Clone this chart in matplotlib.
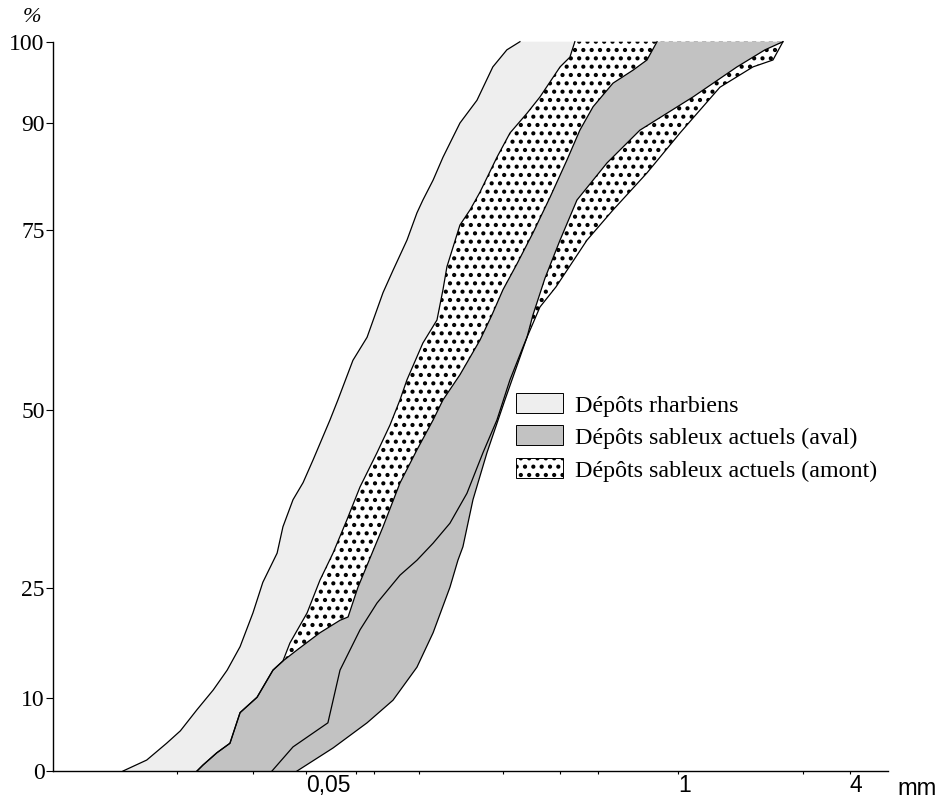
import numpy as np
import matplotlib
matplotlib.use("Agg")
import matplotlib.pyplot as plt
from matplotlib.patches import Rectangle
from matplotlib.ticker import FixedLocator, NullFormatter

# ---------------- data ----------------
# y graduation (%) and the relative height at which each is printed on the axis
pct_ticks = [0, 10, 25, 50, 75, 90, 100]
pct_axis_frac = [0.0, 0.1001, 0.2509, 0.4950, 0.7418, 0.8885, 1.0]

# x graduation (mm, log)
mm_major = [0.05, 1, 4]
mm_major_labels = ["0,05", "1", "4"]
mm_minor = [0.0176, 0.0325, 0.0746, 0.0863, 0.124, 0.244, 0.387, 0.526, 2.75]

# Dépôts rharbiens : fine-side (left) envelope
rharb_lo_mm = [0.0114, 0.0138, 0.0162, 0.0181, 0.0207, 0.0236, 0.0264, 0.0293, 0.0325, 0.0352,
               0.0395, 0.0414, 0.0449, 0.0487, 0.0528, 0.0605, 0.0645, 0.0728, 0.0816, 0.0928,
               0.1006, 0.1126, 0.122, 0.128, 0.139, 0.1505, 0.163, 0.1726, 0.198, 0.225,
               0.252, 0.280]
rharb_lo_pct = [0, 1.5, 3.8, 5.5, 8.4, 11.1, 13.8, 17.0, 21.6, 25.8,
                29.9, 33.6, 37.4, 39.8, 43.0, 48.6, 51.4, 56.9, 60.1, 66.3,
                69.4, 73.6, 77.4, 79.2, 82.0, 85.2, 88.0, 90.0, 92.8, 96.9,
                99.0, 100]

# Dépôts sableux actuels (amont) : left and right envelopes
amont_lo_mm = [0.0207, 0.0217, 0.0243, 0.0270, 0.0293, 0.0336, 0.0382, 0.0414,
               0.0438, 0.0503, 0.0558, 0.0620, 0.0694, 0.0771, 0.0884, 0.0982, 0.1064, 0.1126,
               0.128, 0.1434, 0.1505, 0.1554, 0.1726, 0.1871, 0.2028, 0.2326, 0.2584, 0.2964,
               0.329, 0.387, 0.419, 0.436]
amont_lo_pct = [0, 0.8, 2.5, 3.8, 8.0, 10.1, 13.8, 15.05,
                17.5, 21.6, 26.1, 29.9, 34.6, 39.2, 44.0, 47.9, 51.4, 54.2,
                59.3, 62.5, 66.7, 69.9, 75.7, 77.8, 80.3, 85.2, 88.6, 91.2,
                93.2, 96.9, 98.1, 100]
amont_hi_mm = [0.0379, 0.0449, 0.0595, 0.0656, 0.0771, 0.0884, 0.1064, 0.122, 0.139, 0.1592,
               0.1826, 0.2078, 0.2326, 0.2584, 0.287, 0.2964, 0.329, 0.3745, 0.481, 0.593,
               0.780, 1.018, 1.405, 1.834, 2.155, 2.336]
amont_hi_pct = [0, 3.3, 6.6, 13.8, 19.3, 22.95, 26.8, 28.9, 31.3, 34.1,
                38.3, 44.0, 48.6, 54.2, 58.75, 60.1, 64.3, 67.1, 73.6, 77.8,
                83.0, 88.6, 94.4, 96.9, 97.75, 100]

# Dépôts sableux actuels (aval) : left and right envelopes
aval_lo_mm = [0.0207, 0.0217, 0.0243, 0.0270, 0.0293, 0.0336, 0.0382, 0.0414, 0.0464, 0.0558,
              0.0656, 0.0700, 0.0758, 0.0816, 0.0928, 0.1064, 0.122, 0.139, 0.1505, 0.1726,
              0.2028, 0.2234, 0.2441, 0.2734, 0.311, 0.357, 0.409, 0.454, 0.505, 0.593,
              0.697, 0.780, 0.846]
aval_lo_pct = [0, 0.8, 2.5, 3.8, 8.0, 10.1, 13.8, 15.05, 16.55, 18.9,
               20.6, 21.05, 25.1, 28.2, 33.6, 39.75, 44.4, 48.6, 51.4, 54.9,
               59.7, 63.2, 66.7, 70.3, 74.6, 79.6, 84.8, 89.0, 92.0, 94.9,
               96.5, 97.75, 100]
aval_hi_mm = [0.0464, 0.0620, 0.0816, 0.1006, 0.122, 0.139, 0.1592, 0.1698, 0.1768, 0.1917,
              0.2146, 0.2481, 0.2964, 0.311, 0.3426, 0.387, 0.4435, 0.565, 0.737, 1.130,
              1.612, 2.021, 2.336]
aval_hi_pct = [0, 3.15, 6.6, 9.7, 14.2, 18.9, 25.1, 28.9, 30.8, 37.4,
               44.0, 51.4, 60.1, 63.2, 68.3, 73.6, 79.2, 84.4, 89.0, 93.2,
               96.9, 99.0, 100]

legend_labels = ["Dépôts rharbiens",
                 "Dépôts sableux actuels (aval)",
                 "Dépôts sableux actuels (amont)"]

# ---------------- style ----------------
LIGHT = "#eeeeee"
GREY = "#c2c2c2"
plt.rcParams["hatch.linewidth"] = 1.8
SERIF = ["Liberation Serif", "DejaVu Serif"]
SANS = ["Liberation Sans", "DejaVu Sans"]

W, H = 942, 799
fig = plt.figure(figsize=(W / 100, H / 100), dpi=100)
fx = lambda px: px / W
fy = lambda py: 1 - py / H

ax = fig.add_axes([fx(53), fy(771), (888 - 53) / W, (771 - 41.7) / H])
ax.set_xscale("log")
ax.set_yscale("function",
              functions=(lambda y: np.interp(y, pct_ticks, pct_axis_frac),
                         lambda f: np.interp(f, pct_axis_frac, pct_ticks)))
ax.set_xlim(0.00648, 5.45)
ax.set_ylim(0, 100)


def band(lo_mm, lo_pct, hi_mm, hi_pct, **kw):
    xs = np.r_[lo_mm, np.asarray(hi_mm)[::-1]]
    ys = np.r_[lo_pct, np.asarray(hi_pct)[::-1]]
    ax.fill(xs, ys, linewidth=0, clip_on=False, **kw)


band(rharb_lo_mm, rharb_lo_pct, amont_lo_mm, amont_lo_pct, facecolor=LIGHT, edgecolor="none")
band(amont_lo_mm, amont_lo_pct, amont_hi_mm, amont_hi_pct, facecolor="white",
     edgecolor="black", hatch="..")
band(aval_lo_mm, aval_lo_pct, aval_hi_mm, aval_hi_pct, facecolor=GREY, edgecolor="none")

for xs, ys in [(rharb_lo_mm, rharb_lo_pct), (amont_lo_mm, amont_lo_pct),
               (amont_hi_mm, amont_hi_pct), (aval_lo_mm, aval_lo_pct),
               (aval_hi_mm, aval_hi_pct)]:
    ax.plot(xs, ys, color="black", lw=0.9, clip_on=False, solid_joinstyle="round")

# axes
for s in ["top", "right"]:
    ax.spines[s].set_visible(False)
for s in ["left", "bottom"]:
    ax.spines[s].set_linewidth(1.0)
    ax.spines[s].set_color("black")

ax.set_yticks(pct_ticks)
ax.set_yticklabels([str(v) for v in pct_ticks], fontsize=17, family=SERIF)
ax.tick_params(axis="y", direction="out", length=5, width=0.8, pad=1)
ax.yaxis.set_minor_locator(FixedLocator([]))

ax.xaxis.set_major_locator(FixedLocator(mm_major))
ax.set_xticklabels(mm_major_labels, fontsize=16.5, family=SANS)
for lab in ax.get_xticklabels():
    lab.set_horizontalalignment("left")
ax.xaxis.set_minor_locator(FixedLocator(mm_minor))
ax.xaxis.set_minor_formatter(NullFormatter())
ax.tick_params(axis="x", which="both", direction="out", length=2.2, width=0.8, pad=0)

fig.text(fx(32), fy(17), "%", fontsize=16, family=SERIF, style="italic",
         ha="center", va="center")
fig.text(fx(897), fy(795), "mm", fontsize=17, family=SANS, ha="left", va="baseline")

# legend
leg_styles = [dict(facecolor=LIGHT), dict(facecolor=GREY),
              dict(facecolor="white", hatch="..")]
for i, (lab, st) in enumerate(zip(legend_labels, leg_styles)):
    yc = 403 + 32.3 * i
    r = Rectangle((fx(516), fy(yc + 10)), 47 / W, 20 / H, transform=fig.transFigure,
                  edgecolor="black", linewidth=0.7, **st)
    fig.add_artist(r)
    fig.text(fx(575), fy(yc + 1), lab, fontsize=17.3, family=SERIF, ha="left",
             va="center_baseline")

fig.savefig("out.png", dpi=100)
